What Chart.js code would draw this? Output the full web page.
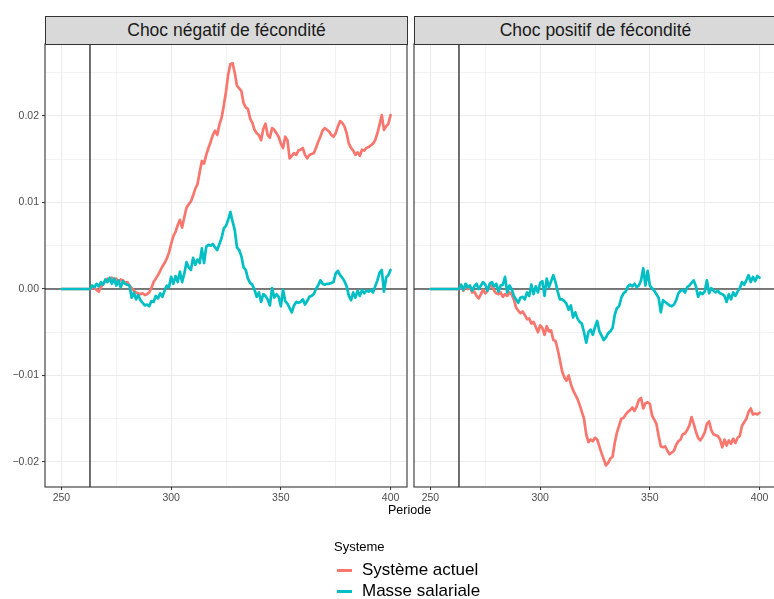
<!DOCTYPE html>
<html>
<head>
<meta charset="utf-8">
<script src="https://cdn.jsdelivr.net/npm/chart.js@4.4.1/dist/chart.umd.min.js"></script>
<style>
  html, body { margin: 0; padding: 0; background: #fff; }
  body { width: 774px; height: 599px; overflow: hidden; position: relative; font-family: "Liberation Sans", Arial, Helvetica, sans-serif; }
  canvas { position: absolute; top: 0; }
  .strip { position: absolute; top: 16px; height: 29px; box-sizing: border-box; border: 1px solid #333; background: #D9D9D9;
           color: #1A1A1A; font-size: 17.5px; line-height: 26px; text-align: center; }
  .txt { position: absolute; white-space: nowrap; color: #000; }
  .key { position: absolute; height: 3px; width: 15px; left: 337px; }
</style>
</head>
<body>
<canvas id="c1" width="412" height="520" style="left:0px"></canvas>
<canvas id="c2" width="380" height="520" style="left:400px"></canvas>
<div class="strip" style="left:45px; width:363px;">Choc négatif de fécondité</div>
<div class="strip" style="left:414px; width:363px;">Choc positif de fécondité</div>
<div class="txt" style="left:388px; top:502px; font-size:12.5px; line-height:16px;">Periode</div>
<div class="txt" style="left:334px; top:539px; font-size:13px; line-height:16px;">Systeme</div>
<div class="key" style="top:569px; background:#F8766D;"></div>
<div class="txt" style="left:362px; top:560px; font-size:17px; line-height:20px;">Système actuel</div>
<div class="key" style="top:590px; background:#00BFC4;"></div>
<div class="txt" style="left:362px; top:581px; font-size:17px; line-height:20px;">Masse salariale</div>
<script>
// ---------- data ----------
const periods = [
  250,251,252,253,254,255,256,257,258,259,
  260,261,262,263,264,265,266,267,268,269,
  270,271,272,273,274,275,276,277,278,279,
  280,281,282,283,284,285,286,287,288,289,
  290,291,292,293,294,295,296,297,298,299,
  300,301,302,303,304,305,306,307,308,309,
  310,311,312,313,314,315,316,317,318,319,
  320,321,322,323,324,325,326,327,328,329,
  330,331,332,333,334,335,336,337,338,339,
  340,341,342,343,344,345,346,347,348,349,
  350,351,352,353,354,355,356,357,358,359,
  360,361,362,363,364,365,366,367,368,369,
  370,371,372,373,374,375,376,377,378,379,
  380,381,382,383,384,385,386,387,388,389,
  390,391,392,393,394,395,396,397,398,399,
  400
];

const seriesNames = ["Système actuel", "Masse salariale"];
const panelTitles = ["Choc négatif de fécondité", "Choc positif de fécondité"];
const shockPeriod = 263;

// Choc négatif — Système actuel
const negActuel = [
  0,0,0,0,0,0,0,0,0,0,
  0,0,0,0,0.0001,0.0002,-0.0001,-0.0003,0.0002,0.0006,
  0.0009,0.0012,0.0010,0.0013,0.0011,0.0012,0.0008,0.0011,0.0010,0.0007,
  0.0008,0.0004,0.0001,-0.0002,-0.0004,-0.0005,-0.0006,-0.0005,-0.0007,-0.0006,
  -0.0004,0.0001,0.0008,0.0012,0.0016,0.0021,0.0026,0.0030,0.0035,0.0042,
  0.0052,0.0061,0.0066,0.0074,0.0080,0.0071,0.0083,0.0094,0.0098,0.0101,
  0.0108,0.0116,0.0121,0.0135,0.0148,0.0145,0.0155,0.0163,0.0170,0.0178,
  0.0183,0.0178,0.0190,0.0198,0.0212,0.0228,0.0248,0.0260,0.0261,0.0250,
  0.0235,0.0232,0.0229,0.0215,0.0210,0.0208,0.0197,0.0192,0.0184,0.0180,
  0.0178,0.0172,0.0185,0.0191,0.0178,0.0175,0.0186,0.0184,0.0180,0.0176,
  0.0168,0.0163,0.0176,0.0172,0.0151,0.0154,0.0157,0.0155,0.0160,0.0161,
  0.0163,0.0155,0.0151,0.0155,0.0156,0.0157,0.0163,0.0170,0.0176,0.0183,
  0.0186,0.0184,0.0182,0.0178,0.0176,0.0180,0.0188,0.0194,0.0192,0.0188,
  0.0180,0.0168,0.0163,0.0160,0.0155,0.0158,0.0154,0.0161,0.0160,0.0163,
  0.0164,0.0166,0.0168,0.0172,0.0180,0.0190,0.0201,0.0184,0.0188,0.0191,
  0.0201
];

// Choc négatif — Masse salariale
const negMasse = [
  0,0,0,0,0,0,0,0,0,0,
  0,0,0,0,0.0004,0.0002,0.0006,0.0003,0.0008,0.0005,
  0.0011,0.0008,0.0013,0.0006,0.0012,0.0004,0.0010,0.0002,0.0009,0.0006,
  0.0005,0.0004,-0.0010,-0.0004,-0.0012,-0.0007,-0.0013,-0.0016,-0.0019,-0.0018,
  -0.0020,-0.0014,-0.0015,-0.0008,-0.0011,-0.0005,-0.0009,-0.0002,0.0004,0.0002,
  0.0014,0.0006,0.0015,0.0008,0.0020,0.0008,0.0018,0.0031,0.0025,0.0022,
  0.0036,0.0028,0.0034,0.0030,0.0047,0.0030,0.0049,0.0051,0.0050,0.0052,
  0.0048,0.0045,0.0052,0.0059,0.0070,0.0073,0.0080,0.0089,0.0078,0.0068,
  0.0048,0.0045,0.0038,0.0025,0.0022,0.0012,0.0007,0.0005,-0.0001,-0.0009,
  -0.0004,-0.0015,-0.0006,-0.0008,-0.0012,-0.0019,0.0001,-0.0010,-0.0006,-0.0009,
  -0.0020,-0.0001,-0.0014,-0.0017,-0.0022,-0.0027,-0.0019,-0.0015,-0.0016,-0.0015,
  -0.0012,-0.0018,-0.0014,-0.0009,-0.0008,-0.0006,0.0000,0.0004,0.0010,0.0006,
  0.0005,0.0006,0.0006,0.0007,0.0008,0.0018,0.0021,0.0016,0.0013,0.0009,
  0.0003,-0.0008,-0.0013,-0.0004,-0.0010,-0.0002,-0.0008,-0.0001,-0.0005,-0.0002,
  -0.0003,-0.0001,-0.0004,0.0003,0.0010,0.0019,0.0022,-0.0003,0.0013,0.0016,
  0.0022
];

// Choc positif — Système actuel
const posActuel = [
  0,0,0,0,0,0,0,0,0,0,
  0,0,0,0,0.0003,-0.0002,0.0004,0.0000,0.0002,-0.0004,
  -0.0003,-0.0008,-0.0011,-0.0006,-0.0001,-0.0005,-0.0002,0.0003,0.0004,-0.0002,
  -0.0005,-0.0006,-0.0004,-0.0009,-0.0006,-0.0008,-0.0004,-0.0006,-0.0012,-0.0021,
  -0.0025,-0.0028,-0.0026,-0.0030,-0.0035,-0.0034,-0.0040,-0.0038,-0.0044,-0.0050,
  -0.0042,-0.0045,-0.0053,-0.0043,-0.0049,-0.0048,-0.0059,-0.0060,-0.0070,-0.0082,
  -0.0095,-0.0102,-0.0106,-0.0100,-0.0110,-0.0117,-0.0122,-0.0127,-0.0134,-0.0142,
  -0.0150,-0.0168,-0.0177,-0.0174,-0.0176,-0.0172,-0.0174,-0.0182,-0.0190,-0.0197,
  -0.0204,-0.0201,-0.0196,-0.0194,-0.0178,-0.0166,-0.0158,-0.0150,-0.0149,-0.0145,
  -0.0142,-0.0140,-0.0137,-0.0141,-0.0136,-0.0128,-0.0126,-0.0138,-0.0132,-0.0131,
  -0.0133,-0.0146,-0.0151,-0.0156,-0.0170,-0.0182,-0.0183,-0.0182,-0.0187,-0.0191,
  -0.0189,-0.0187,-0.0180,-0.0176,-0.0174,-0.0168,-0.0167,-0.0163,-0.0158,-0.0148,
  -0.0156,-0.0165,-0.0172,-0.0175,-0.0171,-0.0166,-0.0156,-0.0153,-0.0163,-0.0168,
  -0.0169,-0.0170,-0.0174,-0.0183,-0.0174,-0.0181,-0.0175,-0.0179,-0.0173,-0.0178,
  -0.0172,-0.0170,-0.0158,-0.0154,-0.0150,-0.0142,-0.0138,-0.0145,-0.0144,-0.0145,
  -0.0143
];

// Choc positif — Masse salariale
const posMasse = [
  0,0,0,0,0,0,0,0,0,0,
  0,0,0,0,0.0005,-0.0001,0.0006,0.0002,0.0004,-0.0002,
  0.0003,0.0006,0.0000,0.0004,0.0008,0.0005,-0.0002,0.0006,0.0008,0.0003,
  0.0006,-0.0003,0.0004,0.0005,0.0014,-0.0004,0.0004,0.0000,-0.0008,-0.0012,
  -0.0016,-0.0010,-0.0009,-0.0012,-0.0004,-0.0008,0.0005,-0.0006,0.0003,-0.0004,
  0.0007,0.0009,-0.0008,0.0012,0.0002,0.0009,0.0016,0.0008,-0.0003,-0.0012,
  -0.0012,-0.0014,-0.0017,-0.0024,-0.0019,-0.0033,-0.0027,-0.0034,-0.0038,-0.0040,
  -0.0050,-0.0062,-0.0050,-0.0047,-0.0053,-0.0044,-0.0037,-0.0049,-0.0054,-0.0059,
  -0.0056,-0.0051,-0.0049,-0.0045,-0.0030,-0.0022,-0.0020,-0.0010,-0.0005,-0.0003,
  0.0003,0.0005,0.0003,0.0006,0.0002,0.0004,0.0010,0.0024,0.0004,0.0021,
  0.0004,0.0001,-0.0002,-0.0006,-0.0010,-0.0027,-0.0013,-0.0015,-0.0017,-0.0019,
  -0.0020,-0.0018,-0.0013,-0.0005,-0.0002,-0.0001,-0.0004,0.0002,0.0004,0.0007,
  0.0010,0.0003,-0.0009,-0.0004,-0.0006,-0.0003,0.0010,-0.0005,0.0001,-0.0002,
  -0.0004,-0.0002,-0.0005,-0.0006,-0.0008,-0.0015,-0.0006,-0.0012,-0.0004,-0.0008,
  -0.0003,0.0001,0.0008,0.0005,0.0010,0.0016,0.0008,0.0014,0.0009,0.0015,
  0.0013
];

// ---------- axes ----------
const xBreaks = [250, 275, 300, 325, 350, 375, 400];
const xLabelled = [250, 300, 350, 400];
const yBreaks = [-0.02, -0.015, -0.01, -0.005, 0, 0.005, 0.01, 0.015, 0.02, 0.025];
const yLabelled = [-0.02, -0.01, 0, 0.01, 0.02];
const xLimits = [242.5, 407.5];
const yLimits = [-0.02289, 0.02832];

const colActuel = "#F8766D";
const colMasse = "#00BFC4";

const isIn = (arr, v) => arr.some(a => Math.abs(a - v) < 1e-9);

function pts(vals) { return periods.map((p, i) => ({ x: p, y: vals[i] })); }

const panelDecor = {
  id: "panelDecor",
  beforeDatasetsDraw(chart) {
    const { ctx, chartArea: a, scales: { x, y } } = chart;
    ctx.save();
    ctx.beginPath(); ctx.rect(a.left, a.top, a.right - a.left, a.bottom - a.top); ctx.clip();
    ctx.strokeStyle = "#000";
    ctx.lineWidth = 1.1;
    const y0 = y.getPixelForValue(0);
    ctx.beginPath(); ctx.moveTo(a.left, y0); ctx.lineTo(a.right, y0); ctx.stroke();
    const xv = x.getPixelForValue(shockPeriod);
    ctx.strokeStyle = "#222";
    ctx.lineWidth = 1.3;
    ctx.beginPath(); ctx.moveTo(xv, a.top); ctx.lineTo(xv, a.bottom); ctx.stroke();
    ctx.restore();
  },
  afterDraw(chart) {
    const { ctx, chartArea: a } = chart;
    ctx.save();
    ctx.strokeStyle = "#333";
    ctx.lineWidth = 1.1;
    ctx.strokeRect(a.left, a.top, a.right - a.left, a.bottom - a.top);
    ctx.restore();
  }
};

function makePanel(canvasId, actuel, masse, showY, pad) {
  return new Chart(document.getElementById(canvasId), {
    type: "line",
    data: {
      datasets: [
        { label: seriesNames[0], data: pts(actuel), borderColor: colActuel, order: 1 },
        { label: seriesNames[1], data: pts(masse), borderColor: colMasse, order: 0 }
      ]
    },
    options: {
      responsive: false,
      animation: false,
      devicePixelRatio: 1,
      parsing: false,
      normalized: true,
      layout: { padding: pad },
      elements: {
        line: { borderWidth: 2.7, tension: 0, borderJoinStyle: "round", borderCapStyle: "round", fill: false },
        point: { radius: 0, hoverRadius: 0 }
      },
      plugins: { legend: { display: false }, tooltip: { enabled: false }, title: { display: false } },
      scales: {
        x: {
          type: "linear",
          min: xLimits[0], max: xLimits[1],
          afterBuildTicks: s => { s.ticks = xBreaks.map(v => ({ value: v })); },
          afterFit: s => { s.height = 23; },
          border: { display: false },
          grid: {
            color: "#EBEBEB",
            lineWidth: c => (c.tick && isIn(xLabelled, c.tick.value)) ? 1.1 : 0.6,
            drawTicks: true,
            tickLength: 3,
            tickWidth: 1,
            tickColor: c => (c.tick && isIn(xLabelled, c.tick.value)) ? "#333" : "rgba(0,0,0,0)"
          },
          ticks: {
            autoSkip: false, maxRotation: 0, padding: 2,
            color: "#4D4D4D",
            font: { family: "'Liberation Sans', Arial, sans-serif", size: 10.5 },
            callback: v => isIn(xLabelled, v) ? String(v) : ""
          }
        },
        y: {
          type: "linear",
          min: yLimits[0], max: yLimits[1],
          afterBuildTicks: s => { s.ticks = yBreaks.map(v => ({ value: v })); },
          afterFit: s => { s.width = showY ? 45 : 0; },
          border: { display: false },
          grid: {
            color: "#EBEBEB",
            lineWidth: c => (c.tick && isIn(yLabelled, c.tick.value)) ? 1.1 : 0.6,
            drawTicks: showY,
            tickLength: 3,
            tickWidth: 1,
            tickColor: c => (c.tick && isIn(yLabelled, c.tick.value)) ? "#333" : "rgba(0,0,0,0)"
          },
          ticks: {
            display: showY,
            autoSkip: false, padding: 3,
            color: "#4D4D4D",
            font: { family: "'Liberation Sans', Arial, sans-serif", size: 10.5 },
            callback: v => isIn(yLabelled, v) ? v.toFixed(2).replace("-", "\u2212") : ""
          }
        }
      }
    },
    plugins: [panelDecor]
  });
}

makePanel("c1", negActuel, negMasse, true, { top: 44, bottom: 10, left: 0, right: 5 });
makePanel("c2", posActuel, posMasse, false, { top: 44, bottom: 10, left: 14, right: 4 });
</script>
</body>
</html>
